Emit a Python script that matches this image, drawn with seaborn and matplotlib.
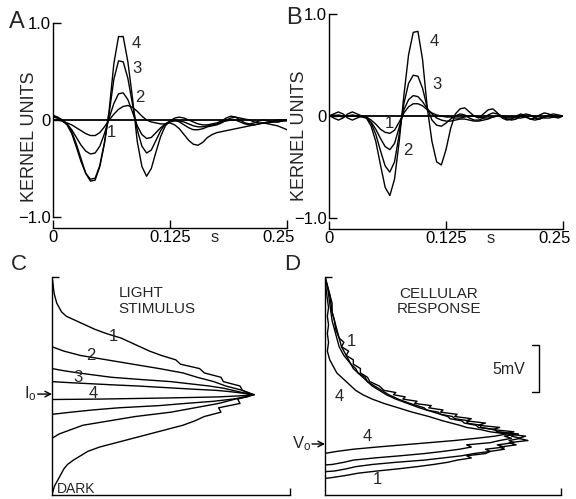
import numpy as np
import pandas as pd
import matplotlib
matplotlib.use('Agg')
import matplotlib.pyplot as plt
import matplotlib.transforms as mtransforms
import seaborn as sns

# ============================================================
# DATA
# ============================================================

# A, B: kernels sampled every 5 ms from 0 to 0.25 s
t_sec = np.arange(0, 0.2501, 0.005)

a_k4 = [0.03, 0.02, 0.00, -0.04, -0.12, -0.25, -0.40, -0.55, -0.63, -0.62,
        -0.48, -0.24, 0.10, 0.58, 0.86, 0.86, 0.60, 0.22, -0.22, -0.48,
        -0.58, -0.50, -0.33, -0.17, -0.06, -0.01, 0.02, 0.03, 0.02, 0.00,
        -0.02, -0.04, -0.05, -0.05, -0.04, -0.03, -0.01, 0.02, 0.04, 0.03,
        0.00, -0.03, -0.04, -0.03, -0.01, 0.00, -0.01, -0.02, -0.02, -0.01,
        -0.01]
a_k3 = [0.04, 0.02, -0.01, -0.05, -0.14, -0.28, -0.43, -0.55, -0.61, -0.60,
        -0.47, -0.23, 0.07, 0.42, 0.61, 0.60, 0.43, 0.16, -0.10, -0.27,
        -0.34, -0.31, -0.21, -0.11, -0.04, -0.01, 0.00, -0.02, -0.05, -0.08,
        -0.10, -0.10, -0.09, -0.07, -0.06, -0.05, -0.03, 0.00, 0.02, 0.03,
        0.02, 0.01, 0.00, -0.02, -0.03, -0.03, -0.02, -0.01, 0.00, 0.00,
        0.00]
a_k2 = [0.05, 0.03, 0.00, -0.04, -0.10, -0.18, -0.26, -0.32, -0.35, -0.34,
        -0.27, -0.14, 0.02, 0.17, 0.27, 0.28, 0.21, 0.08, -0.06, -0.15,
        -0.19, -0.18, -0.13, -0.08, -0.04, -0.02, -0.01, -0.01, -0.02, -0.04,
        -0.06, -0.07, -0.07, -0.06, -0.05, -0.04, -0.02, -0.01, 0.00, 0.00,
        -0.02, -0.04, -0.05, -0.05, -0.04, -0.03, -0.03, -0.02, -0.02, -0.01,
        0.00]
a_k1 = [0.00, 0.00, -0.01, -0.03, -0.05, -0.08, -0.11, -0.14, -0.16, -0.16,
        -0.13, -0.07, 0.00, 0.06, 0.11, 0.14, 0.15, 0.13, 0.09, 0.04,
        0.00, -0.02, -0.03, -0.04, -0.04, -0.03, -0.05, -0.09, -0.15, -0.21,
        -0.25, -0.26, -0.23, -0.18, -0.15, -0.13, -0.12, -0.11, -0.10, -0.09,
        -0.08, -0.07, -0.06, -0.05, -0.04, -0.03, -0.04, -0.05, -0.06, -0.08,
        -0.10]

b_k4 = [0.00, 0.02, 0.04, 0.02, -0.02, -0.04, -0.02, 0.00, -0.02, -0.10,
        -0.25, -0.48, -0.70, -0.78, -0.62, -0.25, 0.20, 0.60, 0.82, 0.83,
        0.55, 0.08, -0.25, -0.45, -0.48, -0.33, -0.12, 0.02, 0.07, 0.08,
        0.04, 0.00, -0.02, 0.02, 0.06, 0.07, 0.03, -0.02, -0.04, -0.03,
        0.00, 0.02, 0.00, -0.03, -0.02, 0.01, 0.03, 0.02, -0.01, -0.02,
        0.00]
b_k3 = [0.01, -0.02, -0.04, -0.02, 0.02, 0.04, 0.02, 0.00, -0.01, -0.07,
        -0.18, -0.34, -0.49, -0.55, -0.45, -0.18, 0.12, 0.32, 0.40, 0.39,
        0.27, 0.08, -0.04, -0.09, -0.10, -0.07, -0.03, 0.00, 0.02, 0.01,
        -0.02, -0.04, -0.04, -0.02, 0.01, 0.03, 0.02, 0.00, -0.03, -0.04,
        -0.03, 0.00, 0.02, 0.01, -0.02, -0.03, -0.01, 0.01, 0.02, 0.01,
        0.00]
b_k2 = [0.00, 0.01, 0.00, -0.01, 0.00, 0.01, 0.00, -0.01, -0.02, -0.06,
        -0.13, -0.22, -0.30, -0.33, -0.27, -0.11, 0.06, 0.16, 0.20, 0.19,
        0.14, 0.07, 0.02, -0.02, -0.04, -0.05, -0.05, -0.04, -0.03, -0.03,
        -0.04, -0.05, -0.05, -0.04, -0.03, -0.01, 0.00, -0.01, -0.02, -0.02,
        -0.01, 0.00, -0.01, -0.03, -0.04, -0.03, -0.01, 0.00, 0.00, -0.01,
        0.00]
b_k1 = [0.00, 0.00, 0.01, 0.00, 0.00, 0.00, 0.00, 0.00, -0.01, -0.04,
        -0.08, -0.13, -0.16, -0.17, -0.14, -0.06, 0.03, 0.09, 0.12, 0.12,
        0.10, 0.06, 0.03, 0.01, 0.00, -0.01, -0.01, -0.02, -0.02, -0.01,
        0.00, 0.00, -0.01, -0.02, -0.02, -0.01, 0.00, 0.00, -0.01, -0.01,
        -0.02, -0.02, -0.01, 0.00, 0.00, -0.01, -0.02, -0.02, -0.01, 0.00,
        0.00]

# C: light stimulus histograms (level 0 = dark, 100 = top of axis; count 0-100)
c1_level = list(range(0, 101, 2))
c1_count = [0, 0.5, 1, 2, 3, 4, 5, 6.5, 9, 12, 15, 20, 27, 34, 41, 48, 55, 60,
            64, 71, 70, 79, 78, 85, 80, 79, 72, 71, 64, 62, 54, 52, 46, 41, 37,
            33, 29, 23, 18, 14, 10, 6, 4, 3, 2, 1.5, 1, 0.7, 0.5, 0.3, 0]
c2_level = list(range(26, 69, 2))
c2_count = [0, 3, 8, 13, 24, 35, 50, 60, 70, 77, 84, 80, 73, 68, 61, 55, 45,
            34, 23, 12, 5, 0]
c3_level = list(range(37, 59))
c3_count = [0, 8, 17, 28, 45, 56, 68, 76, 82, 84, 80, 76, 72, 66, 58, 50, 37,
            25, 18, 11, 5, 0]
c4_level = [43.8, 44, 44.5, 45, 45.5, 46, 46.5, 47, 47.5, 48, 48.5, 49, 49.5,
            50, 50.5, 51, 51.5, 52]
c4_count = [0, 20, 48, 70, 79, 85, 82, 78, 74, 69, 60, 52, 44, 36, 26, 17, 8, 0]

# D: cellular response histograms
d1_level = [7.6, 8, 9, 10, 11, 12, 13, 14, 15, 16, 17, 18, 19, 20, 21, 22, 23,
            24, 25, 26, 27, 28, 29, 30, 31, 32, 33, 34, 35, 36, 37, 38, 39, 40,
            41, 42, 43, 44, 45, 46, 47, 48, 50, 52, 54, 56, 58, 60, 62, 64, 66,
            68, 70, 72, 76, 80, 84, 88, 92, 96, 100]
d1_count = [0, 3, 9, 14, 22, 31, 39, 46, 52, 56, 62, 60, 68, 70, 76, 74, 81,
            78, 86, 82, 85, 77, 80, 71, 74, 65, 68, 60, 62, 55, 56, 49, 50, 44,
            45, 38, 39, 33, 34, 29, 30, 25, 23, 19, 18, 15, 15, 12, 12, 9, 10,
            7, 8, 6, 5, 4, 3, 3, 2, 1, 0]
d2_level = [10.7, 11, 12, 13, 14, 15, 16, 17, 18, 19, 20, 21, 22, 23, 24, 25,
            26, 27, 28, 29, 30, 31, 32, 33, 34, 35, 36, 37, 38, 39, 40, 42, 44,
            46, 48, 50, 52, 54, 56, 58, 60, 64, 68, 72, 76, 80, 84, 88, 92, 96,
            100]
d2_count = [0, 4, 9, 13, 20, 30, 42, 50, 58, 63, 70, 68, 76, 73, 80, 78, 83,
            79, 80, 73, 72, 66, 66, 60, 61, 55, 54, 49, 48, 43, 42, 36, 31, 27,
            24, 21, 18, 17, 14, 13, 11, 9, 7, 6, 4.5, 4, 3, 2.5, 2, 1, 0]
d3_level = [13.8, 14, 15, 16, 17, 18, 19, 20, 21, 22, 23, 24, 25, 26, 27, 28,
            29, 30, 31, 32, 33, 34, 35, 36, 38, 40, 42, 44, 46, 48, 50, 52, 54,
            56, 58, 60, 64, 68, 72, 76, 80, 84, 88, 92, 96, 100]
d3_count = [0, 3, 8, 12, 21, 32, 42, 50, 57, 62, 60, 70, 74, 79, 76, 82, 73,
            72, 65, 64, 59, 58, 53, 52, 46, 40, 35, 30, 26, 23, 20, 18, 16, 14,
            12, 11, 8, 6, 5, 4, 3, 2.5, 2, 1.5, 1, 0]
d4_level = [19.1, 20, 21, 22, 23, 24, 25, 26, 27, 28, 29, 30, 31, 32, 34, 36,
            38, 40, 42, 44, 46, 48, 50, 52, 54, 56, 58, 60, 62, 64, 66, 70, 74,
            78, 82, 86, 90, 94, 100]
d4_count = [0, 5, 12, 22, 33, 44, 55, 64, 72, 77, 70, 66, 60, 57, 50, 44, 37,
            31, 25, 20, 16, 13, 11, 9, 7, 5, 4, 3, 2, 1.5, 1, 1.5, 1, 1.5, 1,
            1.5, 1, 0.5, 0]

curve_names = ['1', '2', '3', '4']

# ============================================================
# STYLE
# ============================================================

sns.set_style('ticks')
plt.rcParams['font.family'] = ['Liberation Sans', 'DejaVu Sans']
plt.rcParams['mathtext.fontset'] = 'custom'
plt.rcParams['mathtext.rm'] = 'Liberation Sans'
plt.rcParams['mathtext.it'] = 'Liberation Sans'
plt.rcParams['axes.linewidth'] = 1.0
plt.rcParams['axes.edgecolor'] = 'black'

W, H = 576, 499
fig = plt.figure(figsize=(W / 100, H / 100), dpi=100)


def box(left, top, right, bottom):
    return [left / W, 1 - bottom / H, (right - left) / W, (bottom - top) / H]


def ftext(x, y, s, **kw):
    fig.text(x / W, 1 - y / H, s, **kw)


# ============================================================
# KERNEL PANELS (A, B)
# ============================================================

def kernel_panel(ax, curves, ylo, labels):
    df = pd.concat([pd.DataFrame({'t': t_sec, 'k': v, 'curve': n})
                    for n, v in zip(curve_names, curves)])
    ax.axhline(0, color='black', lw=1.3)
    sns.lineplot(data=df, x='t', y='k', units='curve', estimator=None,
                 color='black', lw=1.0, ax=ax)
    ax.set_xlim(0, 0.25)
    ax.set_ylim(ylo, 1.0)
    sns.despine(ax=ax)
    ax.spines['left'].set_bounds(-1, 1)
    ax.set_yticks([-1, 0, 1])
    ax.set_yticklabels(['\u22121.0', '0', '1.0'])
    ax.set_xticks([0, 0.125, 0.25])
    ax.set_xticklabels(['0', '0.125', '0.25'])
    ax.tick_params(direction='in', length=5.5, width=1, labelsize=12, pad=1.5,
                   colors='black')
    ax.set_xlabel('')
    ax.set_ylabel('')
    # nudge the last x label a little inward, as in the original lettering
    last = ax.get_xticklabels()[-1]
    last.set_transform(last.get_transform() +
                       mtransforms.ScaledTranslation(-8 / 100, 0, fig.dpi_scale_trans))
    ax.annotate('s', xy=(0.173, 0), xycoords=('data', 'axes fraction'),
                xytext=(0, -1.5), textcoords='offset points',
                ha='center', va='top', fontsize=12)
    for (x, y), s in zip(labels, ['1', '2', '3', '4']):
        ax.text(x, y, s, ha='center', va='center', fontsize=12)


axA = fig.add_axes(box(53, 23, 287, 228))
kernel_panel(axA, [a_k1, a_k2, a_k3, a_k4], -1.113,
             [(0.0627, -0.13), (0.093, 0.23), (0.0892, 0.53), (0.0892, 0.786)])

axB = fig.add_axes(box(329, 14, 563, 229))
kernel_panel(axB, [b_k1, b_k2, b_k3, b_k4], -1.108,
             [(0.0644, -0.078), (0.0839, -0.343), (0.115, 0.31), (0.112, 0.735)])

ftext(29, 137, 'KERNEL UNITS', rotation=90, ha='center', va='center', fontsize=13)
ftext(299, 136, 'KERNEL UNITS', rotation=90, ha='center', va='center', fontsize=13)

# ============================================================
# HISTOGRAM PANELS (C, D)
# ============================================================

def hist_panel(ax, levels, counts):
    df = pd.concat([pd.DataFrame({'level': lv, 'count': ct, 'curve': n})
                    for n, lv, ct in zip(curve_names, levels, counts)])
    sns.lineplot(data=df, x='count', y='level', units='curve', estimator=None,
                 orient='y', color='black', lw=1.0, ax=ax)
    ax.set_xlim(0, 100)
    ax.set_ylim(0, 100)
    sns.despine(ax=ax)
    ax.set_xticks([100])
    ax.set_yticks([100])
    ax.set_xticklabels([])
    ax.set_yticklabels([])
    ax.tick_params(direction='in', length=5, width=1, colors='black')
    ax.set_xlabel('')
    ax.set_ylabel('')


axC = fig.add_axes(box(52, 277, 290, 495))
hist_panel(axC, [c1_level, c2_level, c3_level, c4_level],
           [c1_count, c2_count, c3_count, c4_count])
for (x, y), s in zip([(25.8, 72.9), (16.4, 63.8), (10.7, 53.9), (17.2, 46.6)],
                     ['1', '2', '3', '4']):
    axC.text(x, y, s, ha='center', va='center', fontsize=12)
axC.text(27.9, 95.9, 'LIGHT\nSTIMULUS', ha='left', va='top', fontsize=11,
         linespacing=1.2)
axC.text(2.0, 0.9, 'DARK', ha='left', va='baseline', fontsize=10)
axC.annotate('', xy=(0, 46.3), xytext=(-6.0, 46.3),
             arrowprops=dict(arrowstyle='->', lw=1, color='black',
                             shrinkA=0, shrinkB=0), annotation_clip=False)
axC.text(-6.6, 46.3, r'I$_{\mathrm{o}}$', ha='right', va='center', fontsize=12,
         clip_on=False)

axD = fig.add_axes(box(325, 277, 561, 495))
hist_panel(axD, [d1_level, d2_level, d3_level, d4_level],
           [d1_count, d2_count, d3_count, d4_count])
for (x, y), s in zip([(11.0, 70.4), (5.9, 45.4), (18.0, 27.0), (22.0, 6.9)],
                     ['1', '4', '4', '1']):
    axD.text(x, y, s, ha='center', va='center', fontsize=12)
axD.text(48.1, 95.4, 'CELLULAR\nRESPONSE', ha='center', va='top', fontsize=11,
         linespacing=1.1, multialignment='center')
axD.annotate('', xy=(0, 23.4), xytext=(-5.5, 23.4),
             arrowprops=dict(arrowstyle='->', lw=1, color='black',
                             shrinkA=0, shrinkB=0), annotation_clip=False)
axD.text(-6.0, 23.4, r'V$_{\mathrm{o}}$', ha='right', va='center', fontsize=12,
         clip_on=False)
# 5 mV scale bracket
axD.plot([87.7, 90.7, 90.7, 87.7], [68.8, 68.8, 47.2, 47.2], color='black', lw=1.0)
axD.text(85.0, 57.5, '5mV', ha='right', va='center', fontsize=11.5)

# ============================================================
# PANEL LETTERS
# ============================================================

ftext(9, 21.5, 'A', ha='left', va='center', fontsize=17)
ftext(286, 18, 'B', ha='left', va='center', fontsize=17)
ftext(11, 265, 'C', ha='left', va='center', fontsize=16)
ftext(284, 264, 'D', ha='left', va='center', fontsize=16)

fig.savefig('out.png', dpi=100)
plt.close(fig)
print("saved out.png")
